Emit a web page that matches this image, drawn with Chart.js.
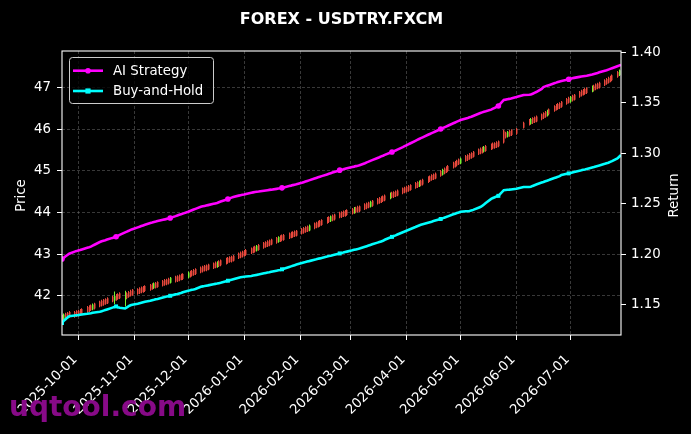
<!DOCTYPE html>
<html><head><meta charset="utf-8">
<script src="https://cdn.jsdelivr.net/npm/chart.js@4.4.1/dist/chart.umd.min.js"></script>
<style>html,body{margin:0;padding:0;background:#000;}canvas{display:block;}</style>
</head><body>
<canvas id="c" width="691" height="434"></canvas>
<script>
const chartTitle = 'FOREX - USDTRY.FXCM';
const startDate = '2025-09-22';
const endDate = '2026-07-29';
const missingDays = ['2026-06-02','2026-06-03','2026-06-04'];
const xTickLabels = ['2025-10-01','2025-11-01','2025-12-01','2026-01-01','2026-02-01','2026-03-01','2026-04-01','2026-05-01','2026-06-01','2026-07-01'];
const priceTicks = [42,43,44,45,46,47];
const returnTicks = [1.15,1.20,1.25,1.30,1.35,1.40];
const seriesNames = ['AI Strategy','Buy-and-Hold'];

const openP = [
41.52,41.43,41.57,41.59,41.61, 41.61,41.63,41.64,41.66,41.68, 41.73,41.75,41.77,41.67,41.81, 41.86,41.88,41.90,41.92,41.94,
41.98,41.88,42.02,42.04,42.06, 41.91,42.06,42.09,42.12,42.14, 42.16,42.18,42.20,42.21,42.23, 42.26,42.28,42.18,42.31,42.33,
42.36,42.38,42.39,42.41,42.31, 42.46,42.47,42.49,42.51,42.52, 42.44,42.58,42.60,42.62,42.64, 42.68,42.70,42.72,42.73,42.75,
42.78,42.80,42.69,42.83,42.85, 42.89,42.91,42.93,42.94,42.96, 43.02,43.04,43.06,43.08,43.10, 43.14,43.16,43.18,43.08,43.22,
43.27,43.29,43.31,43.33,43.35, 43.39,43.29,43.43,43.45,43.46, 43.50,43.52,43.53,43.55,43.56, 43.61,43.63,43.65,43.67,43.57,
43.74,43.76,43.78,43.80,43.82, 43.87,43.89,43.79,43.93,43.95, 44.00,44.01,44.03,44.04,44.06, 44.09,43.99,44.12,44.14,44.15,
44.20,44.22,44.24,44.14,44.28, 44.33,44.35,44.37,44.39,44.41, 44.34,44.48,44.49,44.51,44.53, 44.58,44.60,44.62,44.64,44.66,
44.71,44.73,44.63,44.77,44.79, 44.85,44.87,44.90,44.92,44.94, 45.00,44.91,45.06,45.09,45.12, 45.20,45.22,45.25,45.28,45.18,
45.36,45.38,45.41,45.43,45.46, 45.52,45.54,45.56,45.46,45.60, 45.64,45.66,45.67,45.69,45.71, 45.97,45.92,45.82,45.96,45.98,
46.01,46.16, 46.23,46.13,46.27,46.29,46.31, 46.36,46.39,46.42,46.33,46.48, 46.56,46.59,46.61,46.63,46.66,
46.73,46.76,46.66,46.81,46.83, 46.90,46.93,46.95,46.97,46.99, 46.91,47.05,47.08,47.10,47.12, 47.18,47.21,47.24,47.27,47.30,
47.38,47.30,47.46];
const highP = [
41.54,41.57,41.59,41.61,41.63, 41.63,41.65,41.66,41.68,41.70, 41.75,41.77,41.79,41.81,41.83, 41.88,41.90,41.92,41.94,41.96,
42.00,42.10,42.04,42.06,42.08, 42.12,42.08,42.11,42.14,42.16, 42.18,42.20,42.22,42.23,42.25, 42.28,42.30,42.32,42.33,42.35,
42.38,42.40,42.41,42.43,42.45, 42.48,42.49,42.51,42.53,42.54, 42.58,42.60,42.62,42.64,42.66, 42.70,42.72,42.74,42.75,42.77,
42.80,42.82,42.83,42.85,42.87, 42.91,42.93,42.95,42.96,42.98, 43.04,43.06,43.08,43.10,43.12, 43.16,43.18,43.20,43.22,43.24,
43.29,43.31,43.33,43.35,43.37, 43.41,43.43,43.45,43.47,43.48, 43.52,43.54,43.55,43.57,43.58, 43.63,43.65,43.67,43.69,43.71,
43.76,43.78,43.80,43.82,43.84, 43.89,43.91,43.93,43.95,43.97, 44.02,44.03,44.05,44.06,44.08, 44.11,44.13,44.14,44.16,44.17,
44.22,44.24,44.26,44.28,44.30, 44.35,44.37,44.39,44.41,44.43, 44.48,44.50,44.51,44.53,44.55, 44.60,44.62,44.64,44.66,44.68,
44.73,44.75,44.77,44.79,44.81, 44.87,44.89,44.92,44.94,44.96, 45.02,45.05,45.08,45.11,45.14, 45.22,45.24,45.27,45.30,45.32,
45.38,45.40,45.43,45.45,45.48, 45.54,45.56,45.58,45.60,45.62, 45.66,45.68,45.69,45.71,45.73, 45.99,45.94,45.96,45.98,46.00,
46.03,46.18, 46.25,46.27,46.29,46.31,46.33, 46.38,46.41,46.44,46.47,46.50, 46.58,46.61,46.63,46.65,46.68,
46.75,46.78,46.80,46.83,46.85, 46.92,46.95,46.97,46.99,47.01, 47.05,47.07,47.10,47.12,47.14, 47.20,47.23,47.26,47.29,47.32,
47.40,47.44,47.48];
const lowP = [
41.38,41.41,41.43,41.45,41.47, 41.47,41.49,41.50,41.52,41.54, 41.59,41.61,41.63,41.65,41.67, 41.72,41.74,41.76,41.78,41.80,
41.84,41.80,41.88,41.90,41.92, 41.74,41.92,41.95,41.98,42.00, 42.02,42.04,42.06,42.07,42.09, 42.12,42.14,42.16,42.17,42.19,
42.22,42.24,42.25,42.27,42.29, 42.32,42.33,42.35,42.37,42.38, 42.42,42.44,42.46,42.48,42.50, 42.54,42.56,42.58,42.59,42.61,
42.64,42.66,42.67,42.69,42.71, 42.75,42.77,42.79,42.80,42.82, 42.88,42.90,42.92,42.94,42.96, 43.00,43.02,43.04,43.06,43.08,
43.13,43.15,43.17,43.19,43.21, 43.25,43.27,43.29,43.31,43.32, 43.36,43.38,43.39,43.41,43.42, 43.47,43.49,43.51,43.53,43.55,
43.60,43.62,43.64,43.66,43.68, 43.73,43.75,43.77,43.79,43.81, 43.86,43.87,43.89,43.90,43.92, 43.95,43.97,43.98,44.00,44.01,
44.06,44.08,44.10,44.12,44.14, 44.19,44.21,44.23,44.25,44.27, 44.32,44.34,44.35,44.37,44.39, 44.44,44.46,44.48,44.50,44.52,
44.57,44.59,44.61,44.63,44.65, 44.71,44.73,44.76,44.78,44.80, 44.86,44.89,44.92,44.95,44.98, 45.06,45.08,45.11,45.14,45.16,
45.22,45.24,45.27,45.29,45.32, 45.38,45.40,45.42,45.44,45.46, 45.50,45.52,45.53,45.55,45.57, 45.66,45.78,45.80,45.82,45.84,
45.87,46.02, 46.09,46.11,46.13,46.15,46.17, 46.22,46.25,46.28,46.31,46.34, 46.42,46.45,46.47,46.49,46.52,
46.59,46.62,46.64,46.67,46.69, 46.76,46.79,46.81,46.83,46.85, 46.89,46.91,46.94,46.96,46.98, 47.04,47.07,47.10,47.13,47.16,
47.24,47.28,47.32];
const closeP = [
41.40,41.55,41.45,41.47,41.49, 41.49,41.51,41.52,41.54,41.56, 41.61,41.63,41.65,41.79,41.69, 41.74,41.76,41.78,41.80,41.82,
41.86,42.00,41.90,41.92,41.94, 42.03,41.94,41.97,42.00,42.02, 42.04,42.06,42.08,42.09,42.11, 42.14,42.16,42.30,42.19,42.21,
42.24,42.26,42.27,42.29,42.43, 42.34,42.35,42.37,42.39,42.40, 42.56,42.46,42.48,42.50,42.52, 42.56,42.58,42.60,42.61,42.63,
42.66,42.68,42.81,42.71,42.73, 42.77,42.79,42.81,42.82,42.84, 42.90,42.92,42.94,42.96,42.98, 43.02,43.04,43.06,43.20,43.10,
43.15,43.17,43.19,43.21,43.23, 43.27,43.41,43.31,43.33,43.34, 43.38,43.40,43.41,43.43,43.44, 43.49,43.51,43.53,43.55,43.69,
43.62,43.64,43.66,43.68,43.70, 43.75,43.77,43.91,43.81,43.83, 43.88,43.89,43.91,43.92,43.94, 43.97,44.11,44.00,44.02,44.03,
44.08,44.10,44.12,44.26,44.16, 44.21,44.23,44.25,44.27,44.29, 44.46,44.36,44.37,44.39,44.41, 44.46,44.48,44.50,44.52,44.54,
44.59,44.61,44.75,44.65,44.67, 44.73,44.75,44.78,44.80,44.82, 44.88,45.03,44.94,44.97,45.00, 45.08,45.10,45.13,45.16,45.30,
45.24,45.26,45.29,45.31,45.34, 45.40,45.42,45.44,45.58,45.48, 45.52,45.54,45.55,45.57,45.59, 45.68,45.80,45.94,45.84,45.86,
45.89,46.04, 46.11,46.25,46.15,46.17,46.19, 46.24,46.27,46.30,46.45,46.36, 46.44,46.47,46.49,46.51,46.54,
46.61,46.64,46.78,46.69,46.71, 46.78,46.81,46.83,46.85,46.87, 47.03,46.93,46.96,46.98,47.00, 47.06,47.09,47.12,47.15,47.18,
47.26,47.42,47.34];
const aiStrategy = [
1.1955,1.1968,1.1982,1.1995,1.2007, 1.2028,1.2033,1.2039,1.2044,1.2050, 1.2066,1.2071,1.2077,1.2087,1.2096, 1.2123,1.2130,1.2136,1.2141,1.2147,
1.2164,1.2169,1.2175,1.2183,1.2194, 1.2218,1.2226,1.2234,1.2243,1.2249, 1.2268,1.2274,1.2281,1.2287,1.2293, 1.2312,1.2316,1.2321,1.2325,1.2330,
1.2343,1.2347,1.2352,1.2356,1.2361, 1.2379,1.2386,1.2392,1.2398,1.2404, 1.2423,1.2430,1.2437,1.2444,1.2451, 1.2471,1.2476,1.2480,1.2484,1.2488,
1.2501,1.2505,1.2509,1.2516,1.2523, 1.2542,1.2549,1.2555,1.2562,1.2569, 1.2582,1.2586,1.2590,1.2594,1.2599, 1.2611,1.2614,1.2617,1.2620,1.2622,
1.2630,1.2633,1.2636,1.2639,1.2641, 1.2649,1.2652,1.2655,1.2659,1.2663, 1.2677,1.2681,1.2686,1.2690,1.2694, 1.2709,1.2715,1.2721,1.2727,1.2733,
1.2751,1.2757,1.2763,1.2769,1.2775, 1.2792,1.2798,1.2804,1.2810,1.2816, 1.2834,1.2838,1.2842,1.2847,1.2852, 1.2865,1.2869,1.2874,1.2878,1.2883,
1.2903,1.2911,1.2918,1.2926,1.2933, 1.2955,1.2962,1.2970,1.2977,1.2985, 1.3007,1.3014,1.3022,1.3029,1.3037, 1.3062,1.3071,1.3080,1.3089,1.3098,
1.3124,1.3133,1.3142,1.3151,1.3159, 1.3184,1.3192,1.3200,1.3208,1.3216, 1.3241,1.3249,1.3257,1.3265,1.3273, 1.3298,1.3306,1.3314,1.3322,1.3330,
1.3346,1.3351,1.3357,1.3362,1.3370, 1.3392,1.3399,1.3406,1.3412,1.3416, 1.3433,1.3442,1.3451,1.3460,1.3469, 1.3529,1.3532,1.3536,1.3539,1.3543,
1.3557,1.3578, 1.3580,1.3582,1.3590,1.3599,1.3607, 1.3638,1.3656,1.3663,1.3669,1.3675, 1.3694,1.3700,1.3707,1.3712,1.3716,
1.3729,1.3734,1.3738,1.3743,1.3747, 1.3757,1.3760,1.3763,1.3766,1.3769, 1.3781,1.3786,1.3791,1.3796,1.3802, 1.3817,1.3822,1.3829,1.3836,1.3843,
1.3863,1.3869,1.3876];
const buyHold = [
1.1322,1.1345,1.1360,1.1375,1.1388, 1.1396,1.1398,1.1400,1.1403,1.1406, 1.1413,1.1416,1.1419,1.1423,1.1426, 1.1433,1.1438,1.1444,1.1450,1.1456,
1.1474,1.1480,1.1486,1.1478,1.1472, 1.1466,1.1475,1.1488,1.1497,1.1503, 1.1513,1.1518,1.1523,1.1528,1.1533, 1.1542,1.1547,1.1551,1.1556,1.1560,
1.1574,1.1578,1.1583,1.1587,1.1591, 1.1605,1.1609,1.1614,1.1618,1.1626, 1.1641,1.1645,1.1650,1.1654,1.1659, 1.1680,1.1684,1.1687,1.1691,1.1694,
1.1705,1.1709,1.1712,1.1716,1.1719, 1.1735,1.1740,1.1745,1.1750,1.1755, 1.1770,1.1775,1.1777,1.1779,1.1781, 1.1787,1.1791,1.1795,1.1798,1.1802,
1.1813,1.1817,1.1821,1.1824,1.1828, 1.1839,1.1843,1.1847,1.1853,1.1859, 1.1876,1.1882,1.1888,1.1894,1.1900, 1.1916,1.1921,1.1925,1.1930,1.1934,
1.1948,1.1952,1.1957,1.1961,1.1966, 1.1979,1.1984,1.1988,1.1993,1.1997, 1.2010,1.2015,1.2019,1.2024,1.2028, 1.2041,1.2046,1.2050,1.2054,1.2059,
1.2076,1.2082,1.2088,1.2094,1.2100, 1.2117,1.2123,1.2129,1.2135,1.2145, 1.2167,1.2174,1.2182,1.2189,1.2197, 1.2220,1.2227,1.2235,1.2242,1.2249,
1.2271,1.2279,1.2286,1.2293,1.2298, 1.2314,1.2319,1.2324,1.2330,1.2335, 1.2351,1.2357,1.2364,1.2370,1.2377, 1.2397,1.2403,1.2410,1.2416,1.2423,
1.2427,1.2428,1.2430,1.2436,1.2441, 1.2462,1.2469,1.2480,1.2494,1.2509, 1.2550,1.2558,1.2566,1.2574,1.2580, 1.2636,1.2638,1.2640,1.2641,1.2643,
1.2650,1.2668, 1.2668,1.2670,1.2678,1.2685,1.2692, 1.2711,1.2717,1.2724,1.2730,1.2736, 1.2756,1.2762,1.2768,1.2775,1.2787,
1.2798,1.2802,1.2805,1.2810,1.2815, 1.2828,1.2832,1.2837,1.2841,1.2846, 1.2860,1.2865,1.2871,1.2876,1.2881, 1.2897,1.2903,1.2908,1.2916,1.2924,
1.2950,1.2967,1.2984];
const markerIndex = [0,22,44,66,88,110,131,150,174,198];

function dayNum(s){ const p = s.split('-').map(Number); return (Date.UTC(p[0],p[1]-1,p[2]) - Date.UTC(2025,9,1)) / 86400000; }
const dates = [];
for (let d = dayNum(startDate); d <= dayNum(endDate); d++) {
  const t = new Date(Date.UTC(2025,9,1) + d*86400000);
  const wd = t.getUTCDay();
  if (wd === 0 || wd === 6) continue;
  const s = t.toISOString().slice(0,10);
  if (missingDays.includes(s)) continue;
  dates.push(s);
}
const xs = dates.map(dayNum);

const RED = 'rgb(232,72,60)', GREEN = 'rgb(120,240,50)';
const MAG = '#ff00ff', CYAN = '#00ffff';
const FONT = 'DejaVu Sans';
const candleColor = c => (closeP[c.dataIndex] >= openP[c.dataIndex] ? GREEN : RED);

const bgPlugin = { id:'bg', beforeDraw(ch){ const c=ch.ctx; c.save(); c.fillStyle='#000'; c.fillRect(0,0,ch.width,ch.height); c.restore(); } };
// snap the candle bars (positioned by the x scale) onto whole pixels so they stay crisp
const snapPlugin = { id:'snap', afterDatasetsUpdate(ch){
  ch.getDatasetMeta(0).data.forEach(el => { el.x = Math.floor(el.x) + 0.5; });
  ch.getDatasetMeta(1).data.forEach(el => { el.x = Math.floor(el.x) + 0.75; });
}};
const decoPlugin = { id:'deco', afterDraw(ch){
  const c = ch.ctx, a = ch.chartArea;
  c.save();
  c.strokeStyle = '#fff'; c.lineWidth = 1.1;
  c.strokeRect(a.left, a.top, a.right - a.left, a.bottom - a.top);
  c.fillStyle = '#fff'; c.font = 'bold 16px "' + FONT + '"'; c.textAlign = 'center'; c.textBaseline = 'alphabetic';
  c.fillText(chartTitle, (a.left + a.right) / 2, 24);
  c.font = '13.33px "' + FONT + '"'; c.textBaseline = 'middle';
  c.save(); c.translate(21.5, 195.5); c.rotate(-Math.PI/2); c.fillText('Price', 0, 0); c.restore();
  c.save(); c.translate(675, 195.5); c.rotate(-Math.PI/2); c.fillText('Return', 0, 0); c.restore();
  const bx = 69.5, by = 57.5, bw = 144, bh = 46, r = 3;
  c.beginPath();
  c.moveTo(bx + r, by); c.lineTo(bx + bw - r, by); c.arcTo(bx + bw, by, bx + bw, by + r, r);
  c.lineTo(bx + bw, by + bh - r); c.arcTo(bx + bw, by + bh, bx + bw - r, by + bh, r);
  c.lineTo(bx + r, by + bh); c.arcTo(bx, by + bh, bx, by + bh - r, r);
  c.lineTo(bx, by + r); c.arcTo(bx, by, bx + r, by, r); c.closePath();
  c.fillStyle = 'rgba(0,0,0,0.8)'; c.fill();
  c.strokeStyle = '#cccccc'; c.lineWidth = 1; c.stroke();
  const rows = [{y:70.7, col:MAG, name:seriesNames[0], sq:false}, {y:91, col:CYAN, name:seriesNames[1], sq:true}];
  rows.forEach(rw => {
    c.strokeStyle = rw.col; c.lineWidth = 2.6; c.beginPath(); c.moveTo(73, rw.y); c.lineTo(103, rw.y); c.stroke();
    c.fillStyle = rw.col;
    if (rw.sq) c.fillRect(88 - 2.6, rw.y - 2.6, 5.2, 5.2);
    else { c.beginPath(); c.arc(88, rw.y, 2.8, 0, Math.PI*2); c.fill(); }
    c.fillStyle = '#fff'; c.textAlign = 'left'; c.textBaseline = 'middle'; c.font = '13.33px "' + FONT + '"';
    c.fillText(rw.name, 113, rw.y + 0.5);
  });
  c.fillStyle = '#870a87'; c.font = 'bold 28px "' + FONT + '"'; c.textAlign = 'left'; c.textBaseline = 'alphabetic';
  c.fillText('uqtool.com', 9, 416);
  c.restore();
}};

const tickFont = { family: FONT, size: 13.33 };
new Chart(document.getElementById('c'), {
  type: 'line',
  data: { datasets: [
    { type:'bar', label:'wick', data: xs.map((x,i)=>({x:x, y:[lowP[i], highP[i]]})), yAxisID:'y', backgroundColor:candleColor, barThickness:1, inflateAmount:0, grouped:false, borderWidth:0, order:4 },
    { type:'bar', label:'body', data: xs.map((x,i)=>({x:x, y:[openP[i], closeP[i]]})), yAxisID:'y', backgroundColor:candleColor, barThickness:1.5, inflateAmount:0, grouped:false, borderWidth:0, order:3 },
    { type:'line', label:seriesNames[1], data: xs.map((x,i)=>({x:x, y:buyHold[i]})), yAxisID:'y1', borderColor:CYAN, backgroundColor:CYAN, borderWidth:2.6, tension:0, fill:false,
      pointStyle:'rect', pointRadius: c => markerIndex.includes(c.dataIndex) ? 2.8 : 0, pointBorderWidth:0, pointBackgroundColor:CYAN, order:2 },
    { type:'line', label:seriesNames[0], data: xs.map((x,i)=>({x:x, y:aiStrategy[i]})), yAxisID:'y1', borderColor:MAG, backgroundColor:MAG, borderWidth:2.6, tension:0, fill:false,
      pointStyle:'circle', pointRadius: c => markerIndex.includes(c.dataIndex) ? 2.8 : 0, pointBorderWidth:0, pointBackgroundColor:MAG, order:1 }
  ]},
  options: {
    responsive:false, animation:false, events:[],
    layout:{ padding:{ top:51, left:0, right:0, bottom:0 } },
    plugins:{ legend:{display:false}, tooltip:{enabled:false}, title:{display:false} },
    scales:{
      x:{ type:'linear', min:dayNum(startDate), max:dayNum(endDate), offset:false,
        afterBuildTicks: s => { s.ticks = xTickLabels.map(l => ({value: dayNum(l)})); },
        afterFit: s => { s.height = 99; },
        ticks:{ autoSkip:false, maxRotation:45, minRotation:45, color:'#fff', font:tickFont, padding:12, labelOffset:-3,
          callback: (v, i) => xTickLabels[i] },
        grid:{ color:'rgba(128,128,128,0.55)', lineWidth:0.8, tickColor:'#fff', tickLength:5, tickWidth:1, offset:false },
        border:{ display:false, dash:[3,2] } },
      y:{ type:'linear', position:'left', min:41.055, max:47.882,
        afterBuildTicks: s => { s.ticks = priceTicks.map(v => ({value:v})); },
        afterFit: s => { s.width = 62; },
        ticks:{ color:'#fff', font:tickFont, padding:6, callback: v => String(v) },
        grid:{ color:'rgba(128,128,128,0.55)', lineWidth:0.8, tickColor:'#fff', tickLength:5, tickWidth:1 },
        border:{ display:false, dash:[3,2] } },
      y1:{ type:'linear', position:'right', min:1.1203, max:1.4013,
        afterBuildTicks: s => { s.ticks = returnTicks.map(v => ({value:v})); },
        afterFit: s => { s.width = 70; },
        ticks:{ color:'#fff', font:tickFont, padding:5, callback: v => v.toFixed(2) },
        grid:{ drawOnChartArea:false, tickColor:'#fff', tickLength:5, tickWidth:1 },
        border:{ display:false } }
    }
  },
  plugins:[bgPlugin, snapPlugin, decoPlugin]
});
</script>
</body></html>
